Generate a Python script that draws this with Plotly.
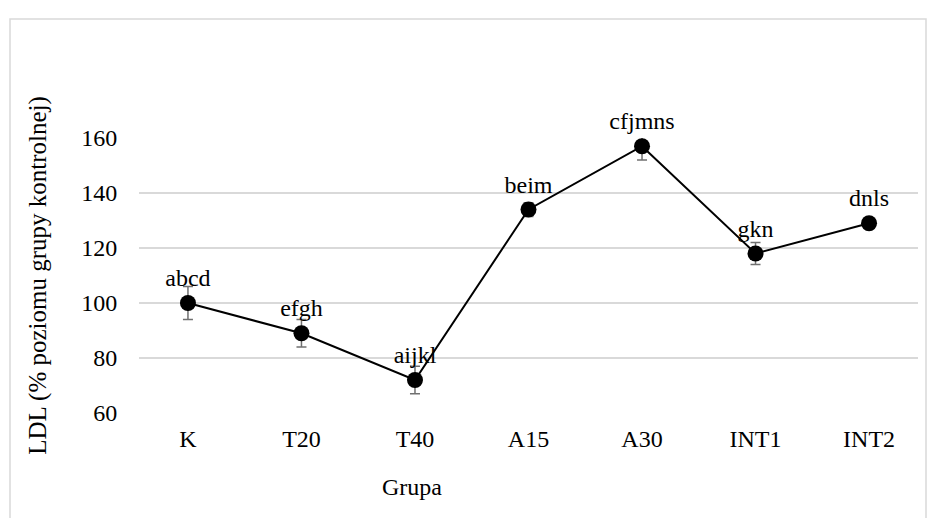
import plotly.graph_objects as go

groups = ["K", "T20", "T40", "A15", "A30", "INT1", "INT2"]
ldl = [100, 89, 72, 134, 157, 118, 129]
err = [6, 5, 5, 2.5, 5, 4, 0]
letters = ["abcd", "efgh", "aijkl", "beim", "cfjmns", "gkn", "dnls"]

FONT = "Liberation Serif"

fig = go.Figure()
fig.add_trace(go.Scatter(
    x=groups, y=ldl,
    mode="lines+markers+text",
    text=letters,
    textposition="top center",
    textfont=dict(family=FONT, size=24, color="black"),
    line=dict(color="black", width=2),
    marker=dict(color="black", size=16),
    error_y=dict(type="data", array=err, visible=True, color="#707070", thickness=1.5, width=5),
    cliponaxis=False,
    showlegend=False,
))

L, R, T, B = 139, 16, 138, 105
W, H = 934, 518
pw = W - L - R
ph = H - T - B

fig.update_layout(
    width=W, height=H,
    margin=dict(l=L, r=R, t=T, b=B),
    paper_bgcolor="white", plot_bgcolor="white",
    font=dict(family=FONT, size=24, color="black"),
    xaxis=dict(
        showgrid=False, showline=False, zeroline=False,
        ticks="outside", ticklen=4, tickcolor="rgba(0,0,0,0)",
        tickfont=dict(family=FONT, size=24, color="black"),
    ),
    yaxis=dict(
        range=[60, 160],
        tickvals=[60, 80, 100, 120, 140, 160],
        showgrid=True, gridcolor="#d9d9d9", gridwidth=1.5,
        showline=False, zeroline=False,
        ticks="outside", ticklen=16, tickcolor="rgba(0,0,0,0)",
        tickfont=dict(family=FONT, size=24, color="black"),
        title=dict(text="LDL (% poziomu grupy kontrolnej)", font=dict(family=FONT, size=25, color="black"), standoff=27),
    ),
    annotations=[dict(
        text="Grupa", xref="paper", yref="paper",
        x=(412 - L) / pw, y=-(487 - (H - B)) / ph,
        xanchor="center", yanchor="middle", showarrow=False,
        font=dict(family=FONT, size=24, color="black"),
    )],
    shapes=[dict(
        type="rect", xref="paper", yref="paper",
        x0=(10 - L) / pw, x1=(926 - L) / pw,
        y0=-(H + 20 - (H - B)) / ph, y1=(H - B - 19) / ph,
        line=dict(color="#d9d9d9", width=1.5), fillcolor="rgba(0,0,0,0)", layer="below",
    )],
)

fig.write_html("out.html")
